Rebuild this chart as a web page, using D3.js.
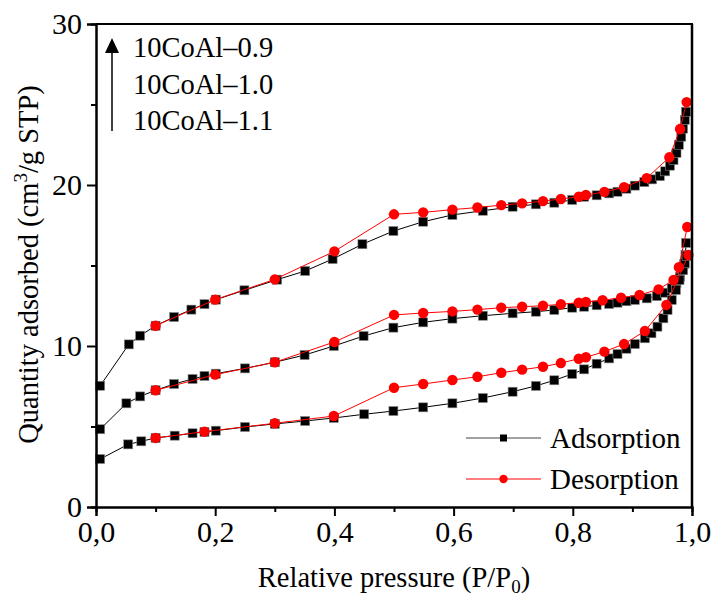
<!DOCTYPE html>
<html>
<head>
<meta charset="utf-8">
<script src="https://cdn.jsdelivr.net/npm/d3@7"></script>
<style>
  html, body { margin: 0; padding: 0; background: #fff; }
  svg { display: block; font-family: "Liberation Serif", "Times New Roman", serif; }
</style>
</head>
<body>
<svg id="chart" width="712" height="601"></svg>
<script>
// ---------------- data ----------------
const sampleNames = ["10CoAl\u20130.9", "10CoAl\u20131.0", "10CoAl\u20131.1"];
const legendNames = ["Adsorption", "Desorption"];
const xTicks = [0, 0.2, 0.4, 0.6, 0.8, 1.0];
const xMinorTicks = [0.1, 0.3, 0.5, 0.7, 0.9];
const yTicks = [0, 10, 20, 30];
const yMinorTicks = [5, 15, 25];

// 10CoAl-0.9
const ads09P = [0.007,0.055,0.074,0.100,0.131,0.160,0.182,0.201,0.249,0.304,0.351,0.397,0.447,0.499,0.549,0.598,0.649,0.699,0.738,0.769,0.799,0.819,0.840,0.861,0.875,0.890,0.904,0.920,0.933,0.946,0.955,0.963,0.969,0.974,0.978,0.982,0.985,0.988,0.990];
const ads09V = [7.53,10.10,10.64,11.26,11.80,12.26,12.60,12.88,13.46,14.12,14.66,15.40,16.32,17.14,17.72,18.14,18.40,18.65,18.80,18.90,19.07,19.27,19.36,19.48,19.58,19.77,19.96,20.18,20.35,20.55,20.85,21.20,21.55,22.00,22.50,23.00,23.50,24.05,24.55];
const des09P = [0.991,0.980,0.962,0.924,0.886,0.853,0.822,0.810,0.780,0.750,0.715,0.680,0.640,0.598,0.549,0.500,0.400,0.300,0.200,0.100];
const des09V = [25.15,23.48,21.72,20.43,19.86,19.57,19.38,19.27,19.13,19.00,18.86,18.75,18.60,18.47,18.30,18.18,15.88,14.14,12.88,11.26];

// 10CoAl-1.0
const ads10P = [0.007,0.051,0.074,0.100,0.131,0.162,0.182,0.201,0.250,0.300,0.350,0.399,0.449,0.499,0.549,0.598,0.649,0.699,0.738,0.769,0.799,0.819,0.840,0.861,0.875,0.890,0.904,0.924,0.941,0.955,0.966,0.974,0.980,0.984,0.987,0.989,0.990];
const ads10V = [4.83,6.44,6.87,7.25,7.64,7.95,8.14,8.28,8.61,8.99,9.44,10.00,10.62,11.14,11.47,11.70,11.88,12.03,12.13,12.24,12.38,12.44,12.53,12.61,12.69,12.78,12.86,12.96,13.10,13.31,13.58,13.89,14.30,14.72,15.10,15.65,16.40];
const des10P = [0.992,0.978,0.969,0.944,0.912,0.881,0.850,0.822,0.810,0.780,0.750,0.715,0.680,0.640,0.598,0.549,0.500,0.400,0.300,0.200,0.100];
const des10V = [17.39,14.89,14.10,13.52,13.17,13.00,12.84,12.73,12.69,12.59,12.50,12.44,12.38,12.26,12.15,12.05,11.93,10.25,8.99,8.22,7.25];

// 10CoAl-1.1
const ads11P = [0.007,0.054,0.076,0.100,0.132,0.162,0.182,0.201,0.250,0.300,0.351,0.399,0.450,0.499,0.549,0.598,0.649,0.699,0.738,0.769,0.799,0.819,0.840,0.861,0.875,0.890,0.904,0.921,0.932,0.942,0.952,0.959,0.966,0.973,0.979,0.985,0.988,0.991];
const ads11V = [2.98,3.89,4.08,4.29,4.43,4.58,4.66,4.74,4.97,5.16,5.34,5.53,5.76,5.96,6.19,6.44,6.77,7.16,7.52,7.87,8.26,8.55,8.90,9.23,9.50,9.83,10.12,10.48,10.79,11.20,11.72,12.24,12.86,13.48,14.10,14.72,15.14,15.60];
const des11P = [0.994,0.957,0.921,0.886,0.853,0.822,0.810,0.780,0.750,0.715,0.680,0.640,0.598,0.549,0.500,0.399,0.300,0.182,0.100];
const des11V = [15.65,12.55,10.93,10.12,9.65,9.30,9.21,8.94,8.71,8.53,8.34,8.09,7.89,7.64,7.41,5.65,5.20,4.68,4.29];

// ---------------- layout ----------------
const svg = d3.select("#chart");
const x0 = 96, x1 = 692, yTop = 24, yBot = 507;
const x = d3.scaleLinear().domain([0, 1]).range([x0, x1]);
const y = d3.scaleLinear().domain([0, 30]).range([yBot, yTop]);
const fmt = d => d3.format(".1f")(d).replace(".", ",");

const zip = (P, V) => P.map((p, i) => ({p: p, v: V[i]}));
const adsSets = [zip(ads09P, ads09V), zip(ads10P, ads10V), zip(ads11P, ads11V)];
const desSets = [zip(des09P, des09V), zip(des10P, des10V), zip(des11P, des11V)];

const line = d3.line().x(d => x(d.p)).y(d => y(d.v));
const plot = svg.append("g");

// adsorption (black squares)
adsSets.forEach(set => {
  plot.append("path").datum(set).attr("d", line)
    .attr("fill", "none").attr("stroke", "#000").attr("stroke-width", 1);
  plot.selectAll(null).data(set).enter().append("rect")
    .attr("x", d => x(d.p) - 4.5).attr("y", d => y(d.v) - 4.5)
    .attr("width", 9).attr("height", 9)
    .attr("fill", "#000").attr("stroke", "#888").attr("stroke-width", 0.6);
});
// desorption (red circles)
desSets.forEach(set => {
  plot.append("path").datum(set).attr("d", line)
    .attr("fill", "none").attr("stroke", "#ff0000").attr("stroke-width", 1);
  plot.selectAll(null).data(set).enter().append("circle")
    .attr("cx", d => x(d.p)).attr("cy", d => y(d.v)).attr("r", 5.2)
    .attr("fill", "#ff0000");
});

// ---------------- axes ----------------
const axisFont = 30;
svg.append("g").attr("transform", `translate(0,${yBot})`)
  .call(d3.axisBottom(x).tickValues(xTicks).tickFormat(fmt).tickSizeOuter(0).tickSize(9).tickPadding(5));
svg.append("g").attr("transform", `translate(0,${yBot})`)
  .call(d3.axisBottom(x).tickValues(xMinorTicks).tickFormat("").tickSizeOuter(0).tickSize(5));
svg.append("g").attr("transform", `translate(${x0},0)`)
  .call(d3.axisLeft(y).tickValues(yTicks).tickSizeOuter(0).tickSize(9).tickPadding(5));
svg.append("g").attr("transform", `translate(${x0},0)`)
  .call(d3.axisLeft(y).tickValues(yMinorTicks).tickFormat("").tickSizeOuter(0).tickSize(5));
svg.selectAll(".domain").attr("stroke", "#000").attr("stroke-width", 2);
svg.selectAll(".tick line").attr("stroke", "#000").attr("stroke-width", 2);
svg.selectAll(".tick text").attr("font-family", "Liberation Serif, Times New Roman, serif")
  .attr("font-size", axisFont).attr("fill", "#000");

// top & right frame
svg.append("line").attr("x1", x0).attr("x2", x1 + 1).attr("y1", yTop).attr("y2", yTop)
  .attr("stroke", "#000").attr("stroke-width", 2);
svg.append("line").attr("x1", x1).attr("x2", x1).attr("y1", yTop).attr("y2", yBot)
  .attr("stroke", "#000").attr("stroke-width", 2.5);

// axis titles
const titleFont = 28.5;
const yt = svg.append("text")
  .attr("transform", `translate(38,${(yTop + yBot) / 2 - 1}) rotate(-90)`)
  .attr("text-anchor", "middle").attr("font-size", titleFont);
yt.append("tspan").text("Quantity adsorbed (cm");
yt.append("tspan").attr("dy", -11).attr("font-size", 19).text("3");
yt.append("tspan").attr("dy", 11).text("/g STP)");

const xt = svg.append("text")
  .attr("x", (x0 + x1) / 2).attr("y", 587)
  .attr("text-anchor", "middle").attr("font-size", titleFont);
xt.append("tspan").text("Relative pressure (P/P");
xt.append("tspan").attr("dy", 6).attr("font-size", 19).text("0");
xt.append("tspan").attr("dy", -6).text(")");

// sample labels with arrow
const arrowX = 112;
svg.append("line").attr("x1", arrowX).attr("x2", arrowX).attr("y1", 131).attr("y2", 50)
  .attr("stroke", "#000").attr("stroke-width", 1.5);
svg.append("path")
  .attr("d", d3.line()([[arrowX, 38], [arrowX - 7, 53], [arrowX + 7, 53]]) + "Z")
  .attr("fill", "#000");
sampleNames.forEach((n, i) => {
  svg.append("text").attr("x", 133).attr("y", 57 + i * 36.5)
    .attr("font-size", 28.5).text(n);
});

// legend
const legY = [438, 479];
legendNames.forEach((n, i) => {
  svg.append("line").attr("x1", 466).attr("x2", 541).attr("y1", legY[i]).attr("y2", legY[i])
    .attr("stroke", i === 0 ? "#444" : "#ff0000").attr("stroke-width", 1.2);
  if (i === 0) {
    svg.append("rect").attr("x", 500).attr("y", legY[i] - 3.5).attr("width", 7).attr("height", 7).attr("fill", "#000");
  } else {
    svg.append("circle").attr("cx", 503.5).attr("cy", legY[i]).attr("r", 4.2).attr("fill", "#ff0000");
  }
  svg.append("text").attr("x", 550).attr("y", legY[i] + 10).attr("font-size", 29).text(n);
});
</script>
</body>
</html>
